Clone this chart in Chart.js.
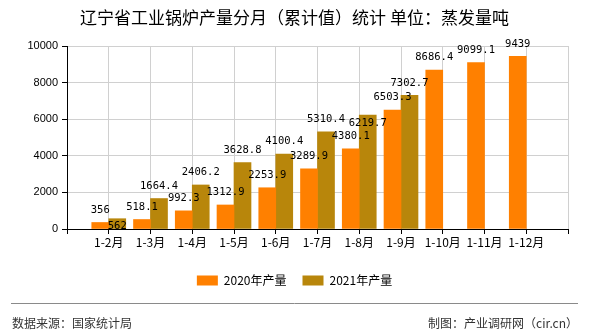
<!DOCTYPE html>
<html><head><meta charset="utf-8">
<style>html,body{margin:0;padding:0;background:#fff}#wrap{width:590px;height:330px}</style>
<script src="https://cdn.jsdelivr.net/npm/chart.js@4"></script>
</head><body><div id="wrap"><canvas id="c" width="590" height="330"></canvas></div>
<script>
const categories = ['1-2月','1-3月','1-4月','1-5月','1-6月','1-7月','1-8月','1-9月','1-10月','1-11月','1-12月'];
const seriesNames = ['2020年产量','2021年产量'];
const values2020 = [356, 518.1, 992.3, 1312.9, 2253.9, 3289.9, 4380.1, 6503.3, 8686.4, 9099.1, 9439];
const values2021 = [562, 1664.4, 2406.2, 3628.8, 4100.4, 5310.4, 6219.7, 7302.7, null, null, null];
const yTicks = [0, 2000, 4000, 6000, 8000, 10000];
const titleText = '辽宁省工业锅炉产量分月（累计值）统计 单位：蒸发量吨';
const sourceText = '数据来源：国家统计局';
const creditText = '制图：产业调研网（cir.cn）';

const CJK = "'Noto Sans CJK SC', 'Noto Sans', sans-serif";
const labels = [''].concat(categories, ['']);
const pad = arr => [null].concat(arr, [null]);

const labelPlugin = {
  id: 'barLabels',
  afterDatasetsDraw(chart) {
    const ctx = chart.ctx;
    ctx.save();
    ctx.font = "10.5px 'DejaVu Sans Mono', monospace";
    ctx.fillStyle = '#000';
    ctx.textAlign = 'center';
    ctx.textBaseline = 'middle';
    const placed = [];
    chart.data.datasets.forEach((ds, di) => {
      const meta = chart.getDatasetMeta(di);
      meta.data.forEach((bar, i) => {
        const v = ds.data[i];
        if (v == null) return;
        const txt = String(v);
        const w = ctx.measureText(txt).width;
        let y = bar.y - 12.5;
        const hit = placed.some(b => Math.abs(b.x - bar.x) < (b.w + w) / 2 && Math.abs(b.y - y) < 11);
        if (hit) y = bar.y + 8;
        placed.push({x: bar.x, y, w});
        ctx.fillText(txt, bar.x, y);
      });
    });
    ctx.restore();
  }
};

const footerPlugin = {
  id: 'footer',
  afterDraw(chart) {
    const ctx = chart.ctx;
    ctx.save();
    ctx.strokeStyle = '#8a8a8a';
    ctx.lineWidth = 1;
    ctx.beginPath();
    ctx.moveTo(11, 303.5);
    ctx.lineTo(578, 303.5);
    ctx.stroke();
    ctx.font = "12px " + CJK;
    ctx.fillStyle = '#333';
    ctx.textBaseline = 'middle';
    ctx.textAlign = 'left';
    ctx.fillText(sourceText, 12, 323.5);
    ctx.textAlign = 'right';
    ctx.fillText(creditText, 578, 323.5);
    ctx.restore();
  }
};

new Chart(document.getElementById('c'), {
  type: 'bar',
  data: {
    labels: labels,
    datasets: [
      { label: seriesNames[0], data: pad(values2020), backgroundColor: '#FF8000', borderWidth: 0, barThickness: 17 },
      { label: seriesNames[1], data: pad(values2021), backgroundColor: '#B8860B', borderWidth: 0, barThickness: 17 }
    ]
  },
  options: {
    responsive: false,
    animation: false,
    devicePixelRatio: 1,
    layout: { padding: { left: 21, right: 22, top: 0, bottom: 33.5 } },
    plugins: {
      title: {
        display: true, text: titleText, color: '#000',
        font: { size: 17, family: CJK, weight: 'normal' },
        padding: { top: 7.8, bottom: 17.8 }
      },
      legend: {
        position: 'bottom',
        labels: { boxWidth: 21, boxHeight: 10, padding: 16, color: '#000', font: { size: 12, family: CJK } }
      },
      tooltip: { enabled: false }
    },
    scales: {
      x: {
        offset: false,
        afterFit(s) { s.height = 29.5; },
        grid: { color: '#d0d0d0', tickColor: '#000', tickLength: 5, offset: false },
        border: { color: '#000' },
        ticks: { autoSkip: false, maxRotation: 0, padding: 1, color: '#000', font: { size: 12, family: CJK } }
      },
      y: {
        min: 0, max: 10000,
        afterFit(s) { s.width = 46; },
        afterBuildTicks(s) { s.ticks = yTicks.map(v => ({ value: v })); },
        grid: { color: '#d0d0d0', tickColor: '#000', tickLength: 5 },
        border: { color: '#000' },
        ticks: { padding: 4, color: '#000', font: { size: 11, family: "'Liberation Sans', Arial, sans-serif" },
                 callback: v => String(v) }
      }
    }
  },
  plugins: [labelPlugin, footerPlugin]
});
</script></body></html>
